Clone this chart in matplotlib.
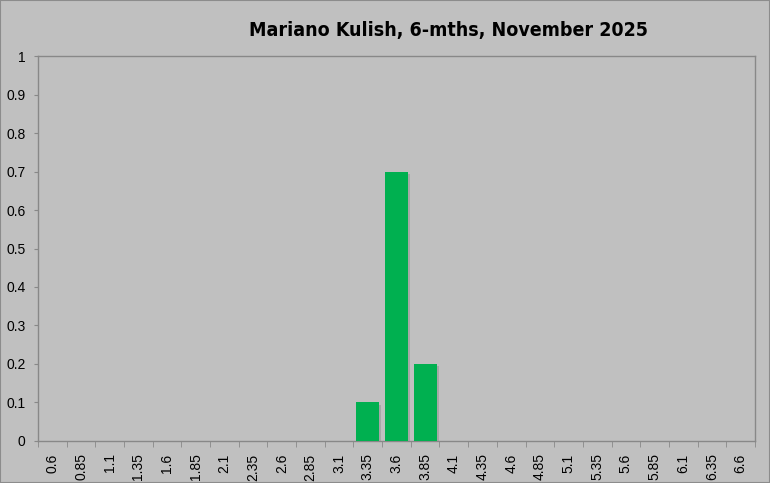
import numpy as np
import matplotlib.pyplot as plt
import matplotlib.patheffects as pe

# bins and shares
bins = ['0.6', '0.85', '1.1', '1.35', '1.6', '1.85', '2.1', '2.35', '2.6', '2.85',
        '3.1', '3.35', '3.6', '3.85', '4.1', '4.35', '4.6', '4.85', '5.1', '5.35',
        '5.6', '5.85', '6.1', '6.35', '6.6']
shares = [0, 0, 0, 0, 0, 0, 0, 0, 0, 0,
          0, 0.1, 0.7, 0.2, 0, 0, 0, 0, 0, 0,
          0, 0, 0, 0, 0]
yticks = [0, 0.1, 0.2, 0.3, 0.4, 0.5, 0.6, 0.7, 0.8, 0.9, 1]
title = "Mariano Kulish, 6-mths, November 2025"

bg = '#c0c0c0'
axis_col = '#888888'

fig = plt.figure(figsize=(7.7, 4.83), dpi=100, facecolor=bg)
fig.patches.append(plt.Rectangle((0, 0), 1, 1, transform=fig.transFigure,
                                 fill=False, edgecolor='#8c8c8c', linewidth=1.5))
ax = fig.add_axes([0.0494, 0.087, 0.931, 0.797])
ax.set_facecolor(bg)

x = np.arange(len(bins))
bars = ax.bar(x, shares, width=0.8, color='#00b050', zorder=3)
for b in bars:
    b.set_path_effects([pe.SimplePatchShadow(offset=(1.5, -1.5), shadow_rgbFace='#909090', alpha=0.5),
                        pe.Normal()])

ax.set_xlim(-0.5, len(bins) - 0.5)
ax.set_ylim(0, 1)
ax.set_yticks(yticks)
ax.set_yticklabels([('%g' % v) for v in yticks], fontsize=10, family='Liberation Sans')
ax.set_xticks(x)
ax.set_xticklabels(bins, rotation=90, fontsize=10, family='Liberation Sans')
ax.tick_params(axis='x', length=0, pad=9)
ax.set_xticks(np.arange(-0.5, len(bins)), minor=True)
ax.tick_params(axis='x', which='minor', length=4, color=axis_col, direction='out')
ax.tick_params(axis='y', length=3, color=axis_col, pad=6)

for s in ax.spines.values():
    s.set_color(axis_col)
    s.set_linewidth(1)

fig.text(0.583, 0.936, title, ha='center', va='center', fontsize=14, fontweight='bold',
         family='DejaVu Sans', fontstretch='condensed')

fig.savefig('out.png', dpi=100, facecolor=bg)
